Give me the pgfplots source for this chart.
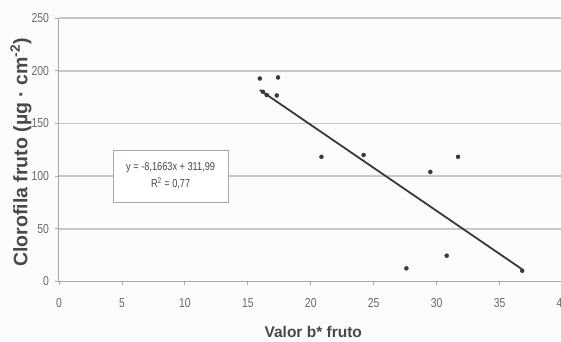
\documentclass[border=0pt]{standalone}
\usepackage{fontspec}
\setmainfont{Liberation Sans}
\newfontfamily\tickfont[FakeStretch=0.8]{Liberation Sans}
\usepackage{pgfplots}
\pgfplotsset{compat=1.18}
\definecolor{bgc}{HTML}{FDFBFD}
\definecolor{gridc}{HTML}{C8C6C8}
\definecolor{axc}{HTML}{A8A6A8}
\definecolor{tickc}{HTML}{6A686A}
\definecolor{ptc}{HTML}{3A383A}
\definecolor{labc}{HTML}{4A484A}
\begin{document}
\begin{tikzpicture}
\path[use as bounding box, fill=bgc] (-59pt,-59.5pt) rectangle (502pt,281.5pt);
\begin{axis}[
  at={(0,0)}, anchor=south west,
  scale only axis, width=503.5pt, height=263.5pt,
  xmin=0, xmax=40, ymin=0, ymax=250,
  xtick={0,5,...,40}, ytick={0,50,...,250},
  axis x line*=bottom, axis y line*=left,
  axis line style={axc, line width=1pt, -},
  ymajorgrids, grid style={gridc, line width=1.6pt},
  tick style={axc, line width=0.8pt},
  tick align=outside, major tick length=3.5pt,
  /pgf/number format/assume math mode=true,
  ticklabel style={font=\tickfont\fontsize{13}{15}\selectfont, text=tickc},
  xticklabel style={yshift=-10pt},
  yticklabel style={xshift=-3pt},
  xlabel={Valor b* fruto},
  ylabel={Clorofila fruto (µg · cm\textsuperscript{-2})},
  xlabel style={font=\bfseries\fontsize{15.5}{17}\selectfont, text=labc, at={(axis description cs:0.505,0)}, anchor=center, yshift=-50.5pt},
  ylabel style={font=\bfseries\fontsize{19.5}{21}\selectfont, text=labc, at={(axis description cs:0,0.49)}, anchor=center, rotate=0, yshift=38pt},
  clip=false,
]
\addplot[ptc, line width=1.8pt] coordinates {(15.95,181.7) (36.8,11.5)};
\addplot[only marks, mark=*, mark size=2pt, ptc] coordinates {
(15.95,192.6) (17.4,193.6) (16.2,180) (16.5,177) (17.3,176.5)
(20.85,118.3) (24.2,120) (29.5,104) (31.7,118.3)
(27.6,12.5) (30.8,24.5) (36.8,10.2)
};
\node[draw=axc, fill=white, line width=0.8pt, minimum width=115pt, minimum height=52pt, align=center, font=\tickfont\fontsize{11.5}{17}\selectfont, text=labc]
  at (axis cs:8.87,100) {y = -8,1663x + 311,99\\R\textsuperscript{2} = 0,77};
\end{axis}
\end{tikzpicture}
\end{document}
